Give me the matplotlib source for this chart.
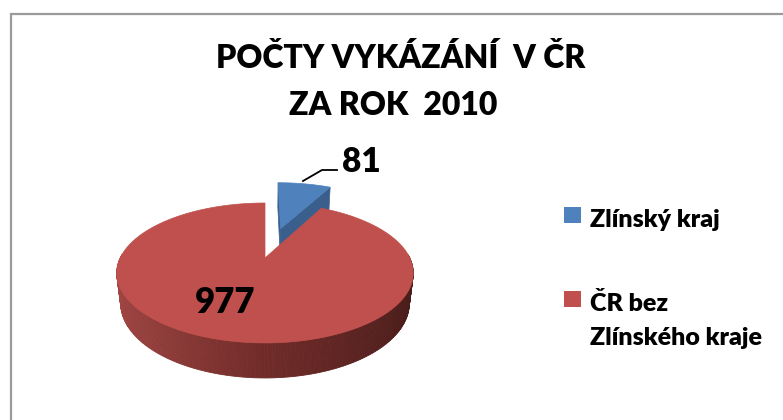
import numpy as np
import matplotlib.pyplot as plt
from matplotlib.patches import Polygon, Rectangle

# data
labels = ["Zlínský kraj", "ČR bez\nZlínského kraje"]
values = [81, 977]
explode = [0.5, 0.0]
top_colors = ["#4f81bd", "#c0504d"]
face_colors = ["#3a5f8c", "#7a2f2d"]
title = "POČTY VYKÁZÁNÍ  V ČR\nZA ROK  2010"

plt.rcParams['font.family'] = ['Lato', 'DejaVu Sans']
WEIGHT = "heavy"

# 3d pie geometry (pixel space)
cx, cy = 265, 258
S = 601.0
sa = 0.461
ca = np.sqrt(1 - sa**2)
D = 4.15
H = 0.239
cam = np.array([0.0, D * sa, -D * ca])  # X, Y, Z


def proj(X, Z, Y):
    X = np.asarray(X, float)
    Z = np.asarray(Z, float)
    Y = np.asarray(Y, float)
    yc = Y * ca + Z * sa
    d = Z * ca - Y * sa
    w = 1.0 / (D + d)
    return cx + S * X * w, cy - S * yc * w


def side_color(t):
    c = np.cos(t)
    left = np.array([0.64, 0.28, 0.27])
    mid = np.array([0.44, 0.17, 0.16])
    right = np.array([0.28, 0.11, 0.10])
    if c < 0:
        return mid + (left - mid) * (-c)
    return mid + (right - mid) * c


fig = plt.figure(figsize=(7.83, 4.20), dpi=100)
ax = fig.add_axes([0, 0, 1, 1])
ax.set_xlim(0, 783)
ax.set_ylim(420, 0)
ax.axis("off")

# chart border (left and top only visible)
ax.plot([11, 11, 783], [420, 14, 14], color="#9a9a9a", lw=1.6,
        solid_joinstyle="miter")

tot = float(sum(values))
start = np.pi / 2
cum = np.concatenate([[0], np.cumsum(values)]) / tot * 2 * np.pi
slices = []
for i in range(len(values)):
    t1 = start - cum[i]
    t2 = start - cum[i + 1]
    mid = (t1 + t2) / 2
    ox, oz = explode[i] * np.cos(mid), explode[i] * np.sin(mid)
    slices.append((i, t1, t2, mid, ox, oz))

# farthest slices first
slices.sort(key=lambda s: -(s[5] + 0.3 * np.sin(s[3])))

for i, t1, t2, mid, ox, oz in slices:
    n = max(int(abs(t1 - t2) / (2 * np.pi) * 400), 8)
    ts = np.linspace(t1, t2, n)

    # outer side strips
    strips = []
    for a, b in zip(ts[:-1], ts[1:]):
        tm = (a + b) / 2
        if np.sin(tm) > 0.05:
            continue
        xa, za = ox + np.cos(a), oz + np.sin(a)
        xb, zb = ox + np.cos(b), oz + np.sin(b)
        px1, py1 = proj([xa, xb], [za, zb], [0, 0])
        px2, py2 = proj([xb, xa], [zb, za], [-H, -H])
        pts = np.column_stack([np.r_[px1, px2], np.r_[py1, py2]])
        strips.append((oz + np.sin(tm), pts, tm))
    strips.sort(key=lambda s: -s[0])
    for _, pts, tm in strips:
        col = side_color(tm)
        ax.add_patch(Polygon(pts, closed=True, fc=col, ec=col, lw=0.6))

    # radial faces
    for t, sign in ((t1, 1), (t2, -1)):
        nrm = np.array([np.cos(t + sign * np.pi / 2), 0.0,
                        np.sin(t + sign * np.pi / 2)])
        p = np.array([ox, 0.0, oz])
        if np.dot(nrm, cam - p) <= 1e-3:
            continue
        X = [ox, ox + np.cos(t), ox + np.cos(t), ox]
        Z = [oz, oz + np.sin(t), oz + np.sin(t), oz]
        Y = [0, 0, -H, -H]
        px, py = proj(X, Z, Y)
        ax.add_patch(Polygon(np.column_stack([px, py]), closed=True,
                             fc=face_colors[i], ec=face_colors[i], lw=0.5))

    # top face
    X = np.r_[ox, ox + np.cos(ts)]
    Z = np.r_[oz, oz + np.sin(ts)]
    px, py = proj(X, Z, np.zeros_like(X))
    ax.add_patch(Polygon(np.column_stack([px, py]), closed=True,
                         fc=top_colors[i], ec=top_colors[i], lw=0.5))

# data labels
ax.plot([303, 322, 337], [181, 170, 170], color="black", lw=1.3)
ax.text(342, 172, str(values[0]), fontsize=24, fontweight=WEIGHT,
        ha="left", va="baseline")
ax.text(225, 313, str(values[1]), fontsize=25, fontweight=WEIGHT,
        ha="center", va="baseline")

# title
t_lines = title.split("\n")
ax.text(401, 68, t_lines[0], fontsize=23, fontweight=WEIGHT,
        ha="center", va="baseline")
ax.text(393, 115, t_lines[1], fontsize=23, fontweight=WEIGHT,
        ha="center", va="baseline")

# legend
ax.add_patch(Rectangle((564, 207), 17, 16, fc=top_colors[0], ec="none"))
ax.text(590, 227, labels[0], fontsize=18, fontweight=WEIGHT,
        ha="left", va="baseline")
ax.add_patch(Rectangle((564, 291), 17, 16, fc=top_colors[1], ec="none"))
l2 = labels[1].split("\n")
ax.text(590, 311, l2[0], fontsize=18, fontweight=WEIGHT,
        ha="left", va="baseline")
ax.text(590, 345, l2[1], fontsize=18, fontweight=WEIGHT,
        ha="left", va="baseline")

fig.savefig("out.png", dpi=100, facecolor="white")
